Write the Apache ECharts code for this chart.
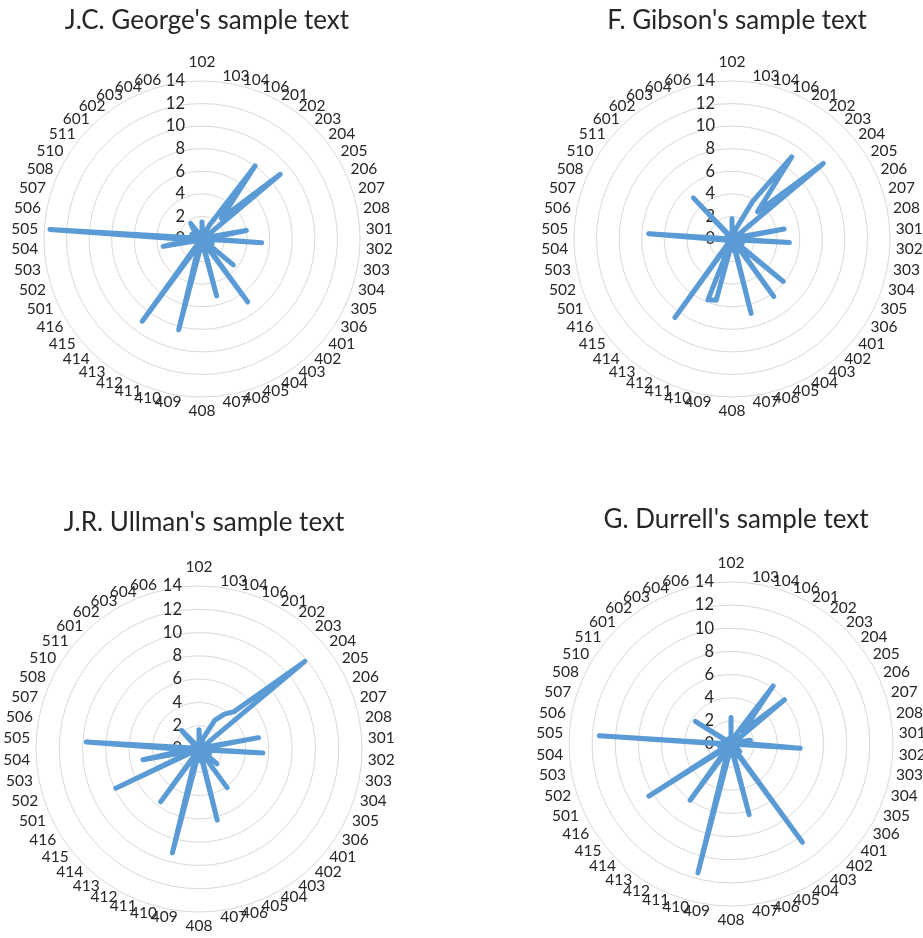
<!DOCTYPE html>
<html>
<head>
<meta charset="utf-8">
<script src="https://cdn.jsdelivr.net/npm/echarts@6/dist/echarts.min.js"></script>
<style>
  html, body { margin: 0; padding: 0; background: #fff; }
  #chart { width: 923px; height: 938px; }
</style>
</head>
<body>
<div id="chart"></div>
<script>
// sample positions, clockwise from the top
var categories = ['102', '103', '104', '106', '201', '202', '203', '204', '205', '206',
  '207', '208', '301', '302', '303', '304', '305', '306', '401', '402',
  '403', '404', '405', '406', '407', '408', '409', '410', '411', '412',
  '413', '414', '415', '416', '501', '502', '503', '504', '505', '506',
  '507', '508', '510', '511', '601', '602', '603', '604', '606', ''];

var georgeValues = [1.5, 0.5, 0, 0.5, 1.5, 8.0, 2.5, 9.0, 0.5, 0,
  0.5, 4.0, 0.5, 5.3, 0, 0.5, 1.0, 0, 3.6, 0,
  6.9, 0.5, 0, 5.2, 0.5, 1.0, 0.5, 8.3, 1.0, 0.5,
  9.0, 0.5, 0, 0.5, 0, 0.5, 3.5, 1.0, 13.5, 0.5,
  0, 1.0, 0, 0.5, 1.0, 1.7, 0.5, 0, 0.5, 0];

var gibsonValues = [1.8, 0, 0.5, 1.0, 3.8, 9.0, 3.3, 10.5, 0.5, 0,
  0.5, 4.7, 0, 5.1, 0.5, 0, 1.0, 0, 5.9, 0.5,
  6.3, 0, 0.5, 6.8, 0, 1.0, 0.5, 5.6, 5.8, 0,
  8.6, 0.5, 0, 0.5, 0, 0.5, 0.5, 1.0, 7.4, 0,
  0.5, 0, 0.5, 0, 5.0, 0.5, 0, 0.5, 0, 0];

var ullmanValues = [1.65, 0.5, 0, 1.0, 2.8, 3.7, 4.4, 11.8, 0.5, 0,
  0.5, 5.2, 0, 5.5, 0.5, 0, 1.0, 0.5, 2.0, 0,
  4.1, 0, 0.5, 6.3, 0, 1.0, 0.5, 9.2, 1.0, 0.5,
  5.6, 0, 0.5, 0, 7.9, 0.5, 4.9, 1.0, 9.7, 0.5,
  0, 0.5, 0, 0.5, 2.2, 0.5, 0, 0.5, 0, 0];

var durrellValues = [2.3, 0, 0.5, 0, 1.0, 6.2, 1.5, 6.0, 0.5, 0,
  0.5, 1.7, 1.0, 6.0, 0, 0.5, 0, 0.5, 1.0, 0,
  10.5, 0.5, 0, 6.3, 0.5, 1.0, 0.5, 11.5, 1.0, 0.5,
  6.0, 0.5, 0.5, 8.4, 0.5, 0, 1.0, 0.5, 11.4, 0,
  0.5, 0, 3.65, 0.5, 0, 0.5, 0, 0.5, 0, 0];

var titles = ["J.C. George's sample text", "F. Gibson's sample text",
  "J.R. Ullman's sample text", "G. Durrell's sample text"];

var axisMin = 0;
var axisMax = 14;
var axisStep = 2;

var chart = echarts.init(document.getElementById('chart'));

var FONT = 'Lato, "Open Sans", sans-serif';
var panels = [
  {title: titles[0], values: georgeValues, center: [202, 239], radius: 158, titleTop: 3},
  {title: titles[1], values: gibsonValues, center: [732, 239], radius: 158, titleTop: 3},
  {title: titles[2], values: ullmanValues, center: [199, 749], radius: 163, titleTop: 505},
  {title: titles[3], values: durrellValues, center: [731, 744], radius: 162, titleTop: 502}
];

// ECharts radar runs counter-clockwise; keep the first axis on top and flip the rest
function clockwise(arr) {
  return [arr[0]].concat(arr.slice(1).reverse());
}

var option = {
  animation: false,
  backgroundColor: '#fff',
  title: [],
  radar: [],
  series: []
};

panels.forEach(function (p, k) {
  option.title.push({
    text: p.title,
    left: p.center[0],
    top: p.titleTop,
    textAlign: 'center',
    textStyle: {fontFamily: FONT, fontSize: 26, fontWeight: 'normal', color: '#262626'}
  });
  option.radar.push({
    center: p.center,
    radius: p.radius,
    startAngle: 90,
    shape: 'circle',
    splitNumber: (axisMax - axisMin) / axisStep,
    nameGap: 6,
    axisName: {color: '#262626', fontFamily: FONT, fontSize: 15.5},
    axisLine: {show: false},
    axisTick: {show: false},
    axisLabel: {show: false, color: '#262626', fontFamily: FONT, fontSize: 16.5, margin: 17},
    splitLine: {lineStyle: {color: '#d9d9d9', width: 1}},
    splitArea: {show: false},
    indicator: clockwise(categories).map(function (name, i) {
      var ind = {name: name, min: axisMin, max: axisMax};
      if (i === 0) {
        ind.axisLabel = {show: true};
        ind.nameGap = 11;
      }
      return ind;
    })
  });
  option.series.push({
    type: 'radar',
    radarIndex: k,
    symbol: 'none',
    lineStyle: {color: '#5b9bd5', width: 5, join: 'round', cap: 'round'},
    data: [{value: clockwise(p.values), name: p.title}]
  });
});

chart.setOption(option);
</script>
</body>
</html>
